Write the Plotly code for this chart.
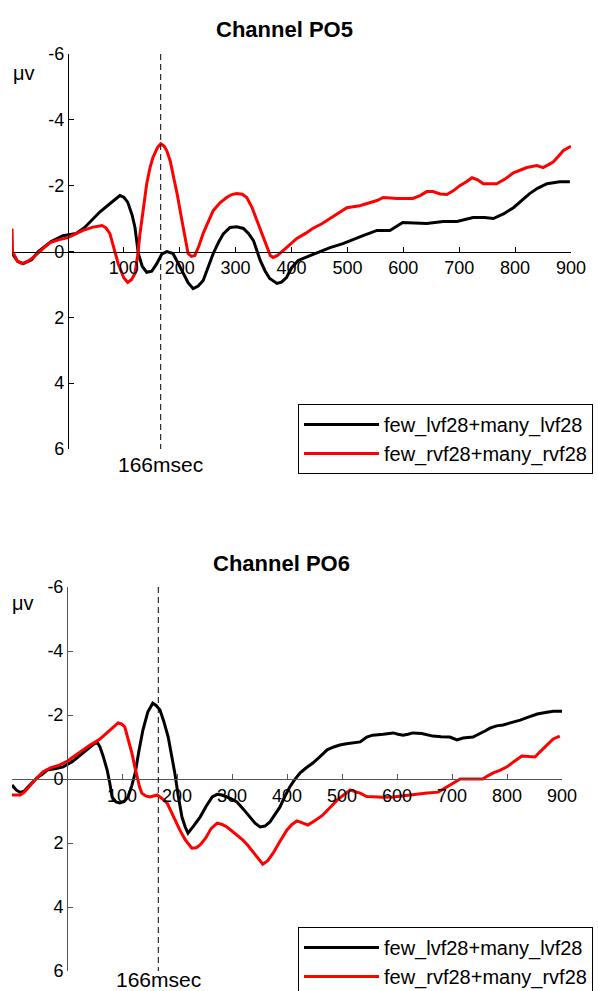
import plotly.graph_objects as go

W, H = 598, 991
FONT = "Liberation Sans, Arial, Helvetica, sans-serif"

# ---------------- Channel PO5 ----------------
po5_lvf_t = [-100, -90, -80, -65, -53, -30, -9, 0, 15, 30, 45, 57, 75, 93, 100, 107, 115, 120, 126,
             133, 141, 150, 159, 168, 177, 188, 197, 206, 215, 224, 233, 242, 251, 260, 270, 278,
             290, 302, 314, 323, 332, 344, 353, 361, 374, 382, 391, 400, 412, 430, 445, 469, 492,
             510, 528, 553, 576, 599, 620, 642, 671, 696, 725, 745, 761, 780, 797, 812, 826, 840,
             857, 880, 898]
po5_lvf_v = [0.05, 0.3, 0.37, 0.25, 0.0, -0.3, -0.48, -0.5, -0.55, -0.73, -1.0, -1.2, -1.45, -1.7,
             -1.65, -1.5, -1.1, -0.73, 0.06, 0.45, 0.63, 0.6, 0.37, 0.08, 0.0, 0.06, 0.35, 0.67,
             0.95, 1.13, 1.05, 0.88, 0.5, 0.06, -0.3, -0.53, -0.73, -0.75, -0.7, -0.55, -0.33,
             0.27, 0.6, 0.82, 0.97, 0.93, 0.79, 0.5, 0.27, 0.15, 0.06, -0.12, -0.24, -0.35, -0.48,
             -0.64, -0.64, -0.88, -0.86, -0.85, -0.91, -0.91, -1.03, -1.03, -1.0, -1.15, -1.33,
             -1.55, -1.76, -1.92, -2.06, -2.12, -2.12]

po5_rvf_t = [-100, -99, -90, -82, -72, -62, -45, -32, -15, 0, 27, 45, 61, 68, 75, 83, 90, 100, 107,
             114, 120, 125, 129, 135, 141, 147, 152, 160, 166, 172, 177, 183, 188, 196, 203, 209,
             215, 221, 227, 234, 242, 251, 260, 272, 284, 293, 302, 312, 320, 329, 338, 347, 356,
             362, 367, 375, 385, 395, 409, 425, 438, 455, 469, 485, 499, 522, 540, 553, 564, 589,
             617, 630, 642, 653, 666, 678, 690, 701, 713, 723, 733, 743, 767, 782, 797, 810, 821,
             839, 850, 860, 868, 878, 886, 895, 900]
po5_rvf_v = [-0.7, 0.0, 0.3, 0.37, 0.3, 0.18, -0.08, -0.27, -0.36, -0.42, -0.64, -0.74, -0.79,
             -0.72, -0.55, -0.1, 0.37, 0.8, 0.94, 0.85, 0.67, 0.1, -0.55, -1.3, -2.06, -2.55,
             -2.85, -3.15, -3.27, -3.2, -3.06, -2.75, -2.36, -1.7, -1.03, -0.45, 0.06, 0.15, 0.12,
             -0.15, -0.55, -0.9, -1.24, -1.48, -1.64, -1.73, -1.76, -1.74, -1.64, -1.35, -0.94,
             -0.5, -0.09, 0.12, 0.18, 0.12, -0.03, -0.18, -0.39, -0.55, -0.7, -0.85, -1.0, -1.17,
             -1.33, -1.39, -1.48, -1.55, -1.64, -1.61, -1.61, -1.7, -1.82, -1.82, -1.75, -1.73,
             -1.85, -2.0, -2.12, -2.24, -2.18, -2.06, -2.06, -2.2, -2.39, -2.48, -2.55, -2.61,
             -2.55, -2.64, -2.72, -2.9, -3.06, -3.15, -3.2]

# ---------------- Channel PO6 ----------------
po6_lvf_t = [-100, -92, -85, -78, -71, -63, -55, -45, -36, -20, -7, 10, 24, 38, 51, 56, 60, 66, 73,
             78, 82, 89, 96, 104, 111, 118, 124, 131, 138, 147, 156, 162, 169, 176, 184, 190, 196,
             202, 209, 215, 220, 231, 242, 253, 264, 273, 282, 296, 309, 321, 333, 342, 351, 360,
             369, 378, 387, 396, 405, 414, 424, 435, 447, 460, 473, 485, 496, 508, 520, 533, 545,
             556, 575, 593, 602, 611, 620, 629, 645, 665, 680, 696, 709, 720, 738, 750, 760, 769,
             781, 793, 808, 824, 840, 855, 870, 884, 900]
po6_lvf_v = [0.19, 0.35, 0.42, 0.38, 0.25, 0.1, -0.03, -0.15, -0.28, -0.33, -0.38, -0.55, -0.75,
             -0.95, -1.12, -1.12, -1.0, -0.7, -0.28, 0.15, 0.56, 0.72, 0.75, 0.7, 0.56, 0.2, -0.19,
             -0.9, -1.53, -2.1, -2.37, -2.3, -2.16, -1.8, -1.31, -0.75, -0.19, 0.5, 1.19, 1.5, 1.69,
             1.45, 1.19, 0.85, 0.56, 0.48, 0.5, 0.6, 0.72, 0.95, 1.19, 1.38, 1.5, 1.47, 1.34, 1.12,
             0.88, 0.55, 0.25, 0.02, -0.19, -0.35, -0.5, -0.7, -0.91, -1.0, -1.06, -1.1, -1.12,
             -1.16, -1.31, -1.37, -1.4, -1.44, -1.4, -1.37, -1.4, -1.44, -1.42, -1.34, -1.32, -1.31,
             -1.22, -1.28, -1.31, -1.4, -1.5, -1.59, -1.66, -1.69, -1.76, -1.84, -1.94, -2.03,
             -2.08, -2.12, -2.12]

po6_rvf_t = [-100, -85, -78, -71, -58, -44, -30, -13, 0, 11, 25, 42, 52, 60, 70, 78, 86, 93, 99,
             105, 111, 118, 123, 127, 132, 136, 143, 151, 158, 164, 172, 182, 193, 205, 215, 227,
             235, 242, 252, 262, 273, 282, 291, 305, 320, 329, 338, 347, 356, 365, 375, 387, 400,
             409, 418, 428, 438, 451, 465, 478, 491, 503, 515, 524, 533, 545, 556, 575, 593, 611,
             629, 642, 655, 675, 683, 691, 703, 715, 735, 756, 765, 775, 788, 800, 813, 827, 840,
             851, 860, 869, 877, 884, 896]
po6_rvf_v = [0.5, 0.5, 0.42, 0.28, 0.03, -0.22, -0.35, -0.44, -0.55, -0.69, -0.87, -1.06, -1.16,
             -1.25, -1.4, -1.53, -1.65, -1.75, -1.72, -1.63, -1.25, -0.81, -0.4, -0.06, 0.25, 0.44,
             0.53, 0.56, 0.53, 0.5, 0.6, 0.75, 1.15, 1.59, 1.9, 2.16, 2.15, 2.06, 1.85, 1.55, 1.38,
             1.42, 1.5, 1.7, 1.91, 2.08, 2.28, 2.48, 2.66, 2.55, 2.31, 1.95, 1.59, 1.42, 1.31, 1.37,
             1.44, 1.3, 1.13, 0.9, 0.66, 0.5, 0.34, 0.4, 0.44, 0.55, 0.56, 0.57, 0.56, 0.52, 0.5,
             0.47, 0.44, 0.41, 0.33, 0.25, 0.12, 0.0, 0.0, 0.0, -0.1, -0.19, -0.28, -0.38, -0.55,
             -0.72, -0.7, -0.69, -0.85, -1.0, -1.13, -1.25, -1.34]

series_names = ["few_lvf28+many_lvf28", "few_rvf28+many_rvf28"]
series_colors = ["#000000", "#ff0000"]
titles = ["Channel PO5", "Channel PO6"]
marker_ms = 166
marker_label = "166msec"
unit_label = "\u03bcv"
x_tickvals = [100, 200, 300, 400, 500, 600, 700, 800, 900]
x_ticktext = ["100", "200", "300", "400", "500", "600", "700", "800", "900"]
y_tickvals = [-6, -4, -2, 0, 2, 4, 6]
y_ticktext = ["-6", "-4", "-2", "0", "2", "4", "6"]
x_range = [-100, 900]
y_range = [6, -6]

# pixel layout of the two panels (left, right, top, bottom) in page pixels
panels = [
    dict(l=12, r=571, t=54, b=449, axis_color="#000000", legend_top=404, title_xy=(284, 30),
         unit_xy=(24, 73), marker_shift=-2),
    dict(l=12, r=562, t=587, b=971, axis_color="#555555", legend_top=927, title_xy=(281, 563),
         unit_xy=(23, 603), marker_shift=5),
]

fig = go.Figure()
data = [
    [(po5_lvf_t, po5_lvf_v), (po5_rvf_t, po5_rvf_v)],
    [(po6_lvf_t, po6_lvf_v), (po6_rvf_t, po6_rvf_v)],
]

annotations = []
shapes = []
for i, p in enumerate(panels):
    sfx = "" if i == 0 else str(i + 1)
    xa, ya = "x" + sfx, "y" + sfx
    leg = "legend" if i == 0 else "legend" + str(i + 1)
    for (t, v), name, col in zip(data[i], series_names, series_colors):
        fig.add_trace(go.Scatter(x=t, y=v, mode="lines", name=name, xaxis=xa, yaxis=ya,
                                 line=dict(color=col, width=3), legend=leg, showlegend=True))
    xdom = [p["l"] / W, p["r"] / W]
    ydom = [(H - p["b"]) / H, (H - p["t"]) / H]
    # positions where the axes cross (x = 0 ms, y = 0 uV)
    x0_frac = xdom[0] + (0 - x_range[0]) / (x_range[1] - x_range[0]) * (xdom[1] - xdom[0])
    y0_frac = ydom[0] + 0.5 * (ydom[1] - ydom[0])
    axis_common = dict(showgrid=False, zeroline=False, showline=True, linecolor=p["axis_color"],
                       linewidth=1, ticks="inside", ticklen=5, tickwidth=1, tickcolor=p["axis_color"],
                       tickfont=dict(family=FONT, size=18, color="#000000"), anchor="free")
    fig.update_layout(**{
        "xaxis" + sfx: dict(axis_common, domain=xdom, range=x_range, position=y0_frac,
                            tickmode="array", tickvals=x_tickvals, ticktext=x_ticktext),
        "yaxis" + sfx: dict(axis_common, domain=ydom, range=y_range, position=x0_frac,
                            tickmode="array", tickvals=y_tickvals, ticktext=y_ticktext),
        leg: dict(x=(p["l"] + 286) / W, xanchor="left", y=(H - p["legend_top"]) / H, yanchor="top",
                  bordercolor="#000000", borderwidth=1, bgcolor="#ffffff",
                  font=dict(family=FONT, size=20, color="#000000"), itemwidth=75,
                  tracegroupgap=0),
    })
    shapes.append(dict(type="line", xref=xa, yref=ya, x0=marker_ms, x1=marker_ms,
                       y0=y_range[1], y1=y_range[0],
                       line=dict(color="#000000", width=1, dash="6px,4px")))
    annotations.append(dict(xref=xa, yref=ya, x=marker_ms, y=y_range[0], yanchor="top",
                            yshift=p["marker_shift"], text=marker_label, showarrow=False,
                            font=dict(family=FONT, size=21, color="#000000")))
    annotations.append(dict(xref="paper", yref="paper", x=p["title_xy"][0] / W, y=1 - p["title_xy"][1] / H,
                            xanchor="center", yanchor="middle", text="<b>" + titles[i] + "</b>",
                            showarrow=False, font=dict(family=FONT, size=22, color="#000000")))
    annotations.append(dict(xref="paper", yref="paper", x=p["unit_xy"][0] / W, y=1 - p["unit_xy"][1] / H,
                            xanchor="center", yanchor="middle", text=unit_label,
                            showarrow=False, font=dict(family=FONT, size=20, color="#000000")))

fig.update_layout(width=W, height=H, margin=dict(l=0, r=0, t=0, b=0, autoexpand=False),
                  paper_bgcolor="#ffffff", plot_bgcolor="rgba(0,0,0,0)",
                  shapes=shapes, annotations=annotations, font=dict(family=FONT))
fig.write_html("out.html", config={"displayModeBar": False})

# remove the browser's default 8px page margin so the figure fills the window exactly
with open("out.html", encoding="utf-8") as fh:
    html = fh.read()
html = html.replace("<head>", "<head><style>html,body{margin:0;padding:0;overflow:hidden;}</style>", 1)
with open("out.html", "w", encoding="utf-8") as fh:
    fh.write(html)
